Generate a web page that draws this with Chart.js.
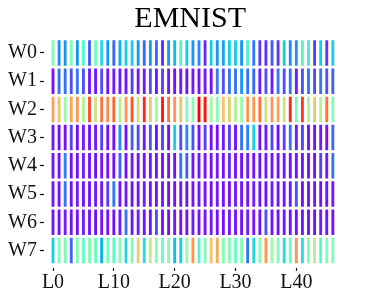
<!DOCTYPE html>
<html>
<head>
<meta charset="utf-8">
<script src="https://cdn.jsdelivr.net/npm/chart.js@4.4.1/dist/chart.umd.min.js"></script>
<style>
  html, body { margin: 0; padding: 0; background: #fff; }
  #wrap { width: 374px; height: 299px; }
</style>
</head>
<body>
<div id="wrap"><canvas id="heat"></canvas></div>
<script>
// layer index (columns) and worker labels (rows)
const layers = Array.from({ length: 47 }, (_, i) => i);
const rowLabels = ['W0', 'W1', 'W2', 'W3', 'W4', 'W5', 'W6', 'W7'];
const tickLabels = ['L0', 'L10', 'L20', 'L30', 'L40'];
const tickLayers = [0, 10, 20, 30, 40];

// normalized value per cell (0 = purple, 1 = red)
const w0 = [0.50, 0.18, 0.20, 0.50, 0.20, 0.42, 0.12, 0.48, 0.33, 0.20, 0.13, 0.25, 0.30, 0.30, 0.20, 0.13, 0.20, 0.14, 0.05, 0.20,
            0.27, 0.40, 0.30, 0.20, 0.18, 0.05, 0.30, 0.20, 0.22, 0.30, 0.30, 0.20, 0.40, 0.15, 0.07, 0.06, 0.12, 0.07, 0.30, 0.18,
            0.20, 0.42, 0.38, 0.08, 0.30, 0.07, 0.30];
const w1 = [0.02, 0.15, 0.15, 0.10, 0.15, 0.10, 0.03, 0.03, 0.10, 0.02, 0.03, 0.03, 0.02, 0.08, 0.03, 0.03, 0.10, 0.03, 0.08, 0.03,
            0.02, 0.03, 0.02, 0.03, 0.02, 0.03, 0.02, 0.15, 0.10, 0.15, 0.15, 0.20, 0.15, 0.13, 0.03, 0.10, 0.03, 0.15, 0.10, 0.15,
            0.03, 0.10, 0.15, 0.10, 0.15, 0.10, 0.12];
const w2 = [0.78, 0.72, 0.55, 0.78, 0.80, 0.60, 0.90, 0.65, 0.85, 0.82, 0.87, 0.60, 0.80, 0.90, 0.65, 0.95, 0.72, 0.58, 0.97, 0.85,
            0.80, 0.72, 0.50, 0.53, 1.00, 0.98, 0.58, 0.52, 0.72, 0.70, 0.60, 0.55, 0.80, 0.80, 0.85, 0.65, 0.80, 0.78, 0.65, 0.95,
            0.48, 0.93, 0.58, 0.72, 0.60, 0.85, 0.50];
const w3 = [0.02, 0.02, 0.02, 0.08, 0.02, 0.03, 0.02, 0.03, 0.08, 0.02, 0.02, 0.18, 0.02, 0.12, 0.10, 0.03, 0.10, 0.02, 0.08, 0.02,
            0.30, 0.10, 0.18, 0.10, 0.02, 0.08, 0.02, 0.02, 0.03, 0.08, 0.02, 0.15, 0.17, 0.30, 0.02, 0.03, 0.08, 0.02, 0.08, 0.15,
            0.03, 0.08, 0.02, 0.02, 0.03, 0.02, 0.13];
const w4 = [0.02, 0.02, 0.17, 0.02, 0.02, 0.03, 0.02, 0.02, 0.03, 0.02, 0.02, 0.12, 0.02, 0.03, 0.02, 0.02, 0.03, 0.02, 0.02, 0.03,
            0.02, 0.15, 0.12, 0.02, 0.03, 0.02, 0.02, 0.03, 0.02, 0.05, 0.02, 0.02, 0.03, 0.02, 0.02, 0.03, 0.02, 0.02, 0.03, 0.02,
            0.02, 0.03, 0.02, 0.02, 0.08, 0.03, 0.15];
const w5 = [0.02, 0.02, 0.15, 0.02, 0.03, 0.02, 0.02, 0.03, 0.02, 0.08, 0.15, 0.02, 0.03, 0.02, 0.02, 0.03, 0.02, 0.02, 0.03, 0.02,
            0.02, 0.03, 0.02, 0.02, 0.03, 0.02, 0.02, 0.03, 0.02, 0.02, 0.03, 0.02, 0.02, 0.03, 0.02, 0.02, 0.03, 0.02, 0.02, 0.03,
            0.10, 0.02, 0.02, 0.03, 0.02, 0.02, 0.03];
const w6 = [0.02, 0.02, 0.03, 0.02, 0.02, 0.03, 0.02, 0.02, 0.03, 0.02, 0.02, 0.03, 0.15, 0.02, 0.03, 0.02, 0.02, 0.10, 0.02, 0.02,
            0.03, 0.02, 0.02, 0.03, 0.02, 0.02, 0.03, 0.02, 0.02, 0.03, 0.02, 0.02, 0.03, 0.02, 0.02, 0.10, 0.02, 0.02, 0.03, 0.02,
            0.02, 0.03, 0.02, 0.02, 0.03, 0.02, 0.02];
const w7 = [0.30, 0.50, 0.48, 0.13, 0.50, 0.45, 0.50, 0.45, 0.25, 0.48, 0.43, 0.50, 0.32, 0.50, 0.70, 0.33, 0.63, 0.52, 0.45, 0.50,
            0.27, 0.30, 0.55, 0.80, 0.42, 0.50, 0.72, 0.77, 0.50, 0.50, 0.45, 0.50, 0.15, 0.32, 0.52, 0.80, 0.55, 0.50, 0.33, 0.45,
            0.80, 0.33, 0.50, 0.63, 0.42, 0.50, 0.50];
const rows = [w0, w1, w2, w3, w4, w5, w6, w7];

// matplotlib "rainbow" colormap
function rainbow(v) {
  const c = x => Math.round(255 * Math.min(1, Math.max(0, x)));
  const r = c(Math.abs(2 * v - 0.5));
  const g = c(Math.sin(Math.PI * v));
  const b = c(Math.cos(Math.PI * v / 2));
  return `rgb(${r},${g},${b})`;
}

const half = 0.44;
const datasets = rows.map((vals, r) => ({
  label: rowLabels[r],
  data: vals.map((_, i) => ({ x: layers[i], y: [r - half, r + half] })),
  backgroundColor: vals.map(rainbow),
  borderWidth: 0,
  barThickness: 2.2,
  grouped: false
}));

const serif = "'Liberation Serif', 'Times New Roman', serif";

new Chart(document.getElementById('heat'), {
  type: 'bar',
  data: { datasets },
  options: {
    responsive: true,
    maintainAspectRatio: false,
    animation: false,
    layout: { padding: { left: 5, right: 37.5, top: 2, bottom: 4 } },
    plugins: {
      legend: { display: false },
      tooltip: { enabled: false },
      title: {
        display: true,
        text: 'EMNIST',
        fullSize: false,
        color: '#000',
        font: { family: serif, size: 30, weight: 'normal', lineHeight: 1.1 },
        padding: { top: 1, bottom: 2 }
      }
    },
    scales: {
      x: {
        type: 'linear',
        min: -1.5,
        max: 46.6,
        offset: false,
        border: { display: false },
        afterBuildTicks: s => { s.ticks = tickLayers.map(v => ({ value: v })); },
        grid: { offset: false, drawOnChartArea: false, tickLength: 3, tickWidth: 1.2, tickColor: '#111' },
        ticks: {
          maxRotation: 0,
          padding: 0,
          color: '#111',
          font: { family: serif, size: 20 },
          callback: (v, i) => tickLabels[i]
        }
      },
      y: {
        type: 'linear',
        reverse: true,
        min: -0.53,
        max: 7.62,
        border: { display: false },
        afterBuildTicks: s => { s.ticks = rowLabels.map((_, i) => ({ value: i })); },
        grid: { drawOnChartArea: false, tickLength: 4, tickWidth: 1.2, tickColor: '#111' },
        ticks: {
          padding: 3,
          color: '#111',
          font: { family: serif, size: 20 },
          callback: (v, i) => rowLabels[i]
        }
      }
    }
  }
});
</script>
</body>
</html>
